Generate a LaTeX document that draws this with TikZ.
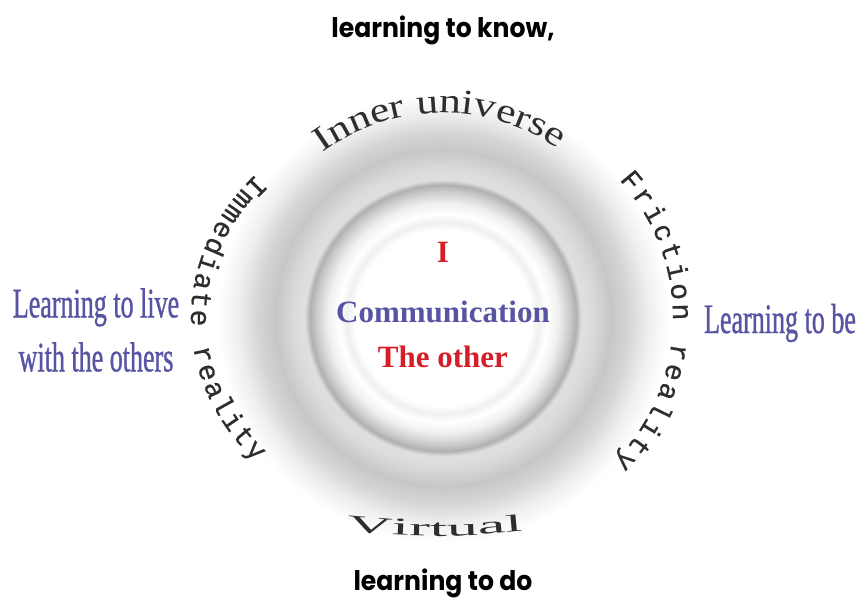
\documentclass[tikz,border=0pt]{standalone}
\usepackage{fontspec}
\setmainfont{Liberation Serif}
\newfontfamily\gothicfont[FakeStretch=0.93]{Poppins}
\newfontfamily\narrowfont[FakeStretch=0.62,FakeBold=0.8]{Liberation Serif}
\newfontfamily\archfont[FakeStretch=1.25]{Liberation Serif}
\newfontfamily\wideserif[FakeStretch=2.6]{Liberation Serif}
\newfontfamily\typefont[FakeBold=0.6]{Liberation Mono}
\usetikzlibrary{decorations.text}
\definecolor{commblue}{RGB}{88,84,164}
\definecolor{ired}{RGB}{214,30,40}
\definecolor{arctext}{RGB}{45,45,45}
\pgfdeclareradialshading{ringglow}{\pgfpoint{0bp}{0bp}}{%
  color(0bp)=(white); color(9.5bp)=(white); color(10.35bp)=(gray!12); color(11.2bp)=(white);
  color(12.4bp)=(gray!12); color(13.7bp)=(gray!42); color(14.35bp)=(gray!62); color(14.9bp)=(gray!25);
  color(16bp)=(gray!28); color(18.1bp)=(gray!44); color(19.95bp)=(gray!33); color(22.1bp)=(gray!13);
  color(24.25bp)=(white); color(25bp)=(white); color(50bp)=(white)}

\begin{document}
\begin{tikzpicture}[x=1pt,y=1pt,
    gothic/.style={font=\gothicfont\bfseries\fontsize{27}{30}\selectfont,anchor=base},
    learn/.style={font=\narrowfont\fontsize{42}{54}\selectfont,text=commblue,align=center},
    core/.style={font=\bfseries\fontsize{31}{36}\selectfont}]
    \useasboundingbox (-443,-282) rectangle (421,318);
    \shade[shading=ringglow] (0,0) circle[radius=232];
    \node[gothic] at (0,280) (know) {learning to know,};
    \node[gothic] at (0,-272) (do) {learning to do};
    \node[learn] at (-347,-12) (live) {Learning to live\\with the others};
    \node[learn] at (337,-5) (be) {Learning to be};
    \node[core,text=ired] at (0,66) (me) {I};
    \node[core,text=commblue] at (0,6) (comm) {Communication};
    \node[core,text=ired] at (0,-39) (other) {The other};
    \path[decorate,decoration={text along path,text align=center,text color=arctext,
        text={|\archfont\fontsize{35}{40}\selectfont|Inner universe}}]
        (129:205) arc[start angle=129,end angle=53,radius=205];
    \path[decorate,decoration={text along path,text align=center,text color=arctext,
        text={|\wideserif\fontsize{24}{28}\selectfont|Virtual}}]
        (-108,-212) to[bend right=6] (92,-212);
    \path[decorate,decoration={text along path,text align={fit to path},text color=arctext,
        text={|\typefont\fontsize{28}{32}\selectfont|Immediate reality}}]
        (138:252 and 215) arc[start angle=138,end angle=222,x radius=252,y radius=215];
    \path[decorate,decoration={text along path,text align={fit to path},text color=arctext,
        text={|\typefont\fontsize{28}{32}\selectfont|Friction reality}}]
        (40:230 and 215) arc[start angle=40,end angle=-42,x radius=230,y radius=215];
\end{tikzpicture}
\end{document}
